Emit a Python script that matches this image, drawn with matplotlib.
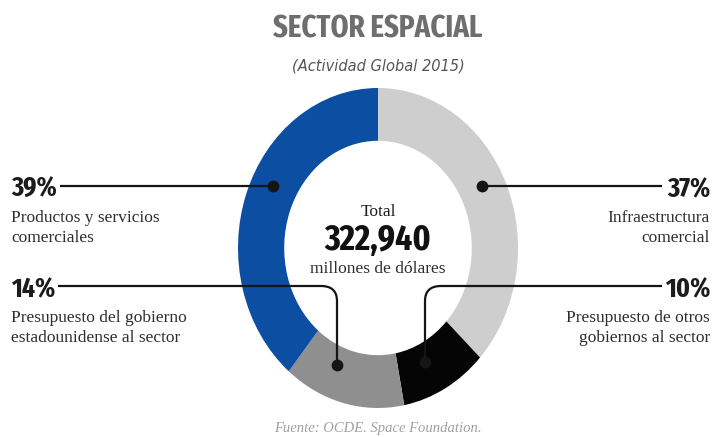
import matplotlib.pyplot as plt
from matplotlib import font_manager
from matplotlib.font_manager import FontProperties
from matplotlib.path import Path
from matplotlib.patches import PathPatch

# sector shares (%), clockwise from 12 o'clock
sectors = ["Infraestructura\ncomercial",
           "Presupuesto de otros\ngobiernos al sector",
           "Presupuesto del gobierno\nestadounidense al sector",
           "Productos y servicios\ncomerciales"]
shares = [37, 10, 14, 39]
colors = ["#cecece", "#050505", "#8f8f8f", "#0c4ea2"]
total = 322940  # millones de dólares

fonts = font_manager.fontManager.ttflist
installed = {f.name for f in fonts}


def pick(*names):
    for n in names:
        if n in installed:
            return n
    return "DejaVu Sans"


def narrow_bold():
    # the most condensed bold face available
    cands = [f for f in fonts
             if ("ondensed" in str(f.stretch) or "Narrow" in f.name
                 or "Condensed" in f.name or "Narrow" in f.fname
                 or "Condensed" in f.fname)]

    def rank(f):
        name = f.fname.split("/")[-1]
        bold = "Bold" in name and "Extra" not in name.split("Condensed")[-1] \
            and "Semi" not in name.split("Condensed")[-1]
        return (not ("ExtraCondensed" in name or "extra" in str(f.stretch)),
                not bold, "Italic" in name, "Semi" in name.split("Condensed")[0])
    cands.sort(key=rank)
    if cands:
        return FontProperties(fname=cands[0].fname)
    return FontProperties(family=pick("Roboto", "DejaVu Sans"), weight="bold")


cond = narrow_bold()
serif = pick("Liberation Serif", "DejaVu Serif")

W, H = 713, 437
fig = plt.figure(figsize=(W / 100, H / 100), dpi=100)

# ring: 280 px wide, 320 px tall, centred at (378, 248)
ax = fig.add_axes([238 / W, (H - 408) / H, 280 / W, 320 / H])
ax.pie(shares, colors=colors, startangle=90, counterclock=False,
       radius=1, wedgeprops=dict(width=0.33, edgecolor="none"))
ax.set_aspect("auto")
ax.set_xlim(-1, 1)
ax.set_ylim(-1, 1)

# overlay in pixel coordinates for leaders and text
ov = fig.add_axes([0, 0, 1, 1], facecolor="none")
ov.set_xlim(0, W)
ov.set_ylim(H, 0)
ov.axis("off")

ink = "#151515"
lw = 1.6


def leader(points, curved=False):
    if curved:
        codes = [Path.MOVETO, Path.LINETO, Path.CURVE3, Path.CURVE3, Path.LINETO]
    else:
        codes = [Path.MOVETO, Path.LINETO]
    ov.add_patch(PathPatch(Path(points, codes), fill=False, ec=ink, lw=lw,
                           capstyle="butt"))


def dot(x, y):
    ov.plot(x, y, "o", ms=7.5, color=ink, zorder=5)


# 37% - right, upper
leader([(482, 186), (662, 186)])
dot(482, 186)
# 10% - right, lower
leader([(425, 362), (425, 301), (425, 286), (441, 286), (662, 286)], curved=True)
dot(425, 362)
# 14% - left, lower
leader([(337, 365), (337, 301), (337, 286), (321, 286), (58, 286)], curved=True)
dot(337, 365)
# 39% - left, upper
leader([(273, 186), (60, 186)])
dot(273, 186)


def cfont(size):
    fp = cond.copy()
    fp.set_size(size)
    return fp


lab_kw = dict(fontsize=12.5, family=serif, color="#2e2e2e", va="baseline")

# (row y of percentage, side)
rows = [(186, "right"), (286, "right"), (286, "left"), (186, "left")]
for name, v, (y, side) in zip(sectors, shares, rows):
    x = 710 if side == "right" else 11
    ov.text(x, y + 11, f"{v}%", ha=side, va="baseline",
            fontproperties=cfont(20), color="#1c1c1c")
    for i, line in enumerate(name.split("\n")):
        ov.text(x, y + 36 + i * 20, line, ha=side, **lab_kw)

# centre
ov.text(378, 216, "Total", ha="center", fontsize=12.5, family=serif,
        color="#1c1c1c", va="baseline")
ov.text(378, 250, f"{total:,}", ha="center", va="baseline",
        fontproperties=cfont(26), color="#111111")
ov.text(378, 273, "millones de dólares", ha="center", va="baseline",
        fontsize=12.5, family=serif, color="#2e2e2e")

# titles
ov.text(378, 38, "SECTOR ESPACIAL", ha="center", va="baseline",
        fontproperties=cfont(22.5), color="#6e6e6e")
ov.text(378, 66, "(Actividad Global 2015)", ha="center", va="center",
        fontsize=10.5, family="DejaVu Sans", style="italic", color="#555555")
ov.text(378, 432, "Fuente: OCDE. Space Foundation.", ha="center",
        va="baseline", fontsize=10.5, family=serif, style="italic",
        color="#a0a0a0")

fig.savefig("out.png", dpi=100)
